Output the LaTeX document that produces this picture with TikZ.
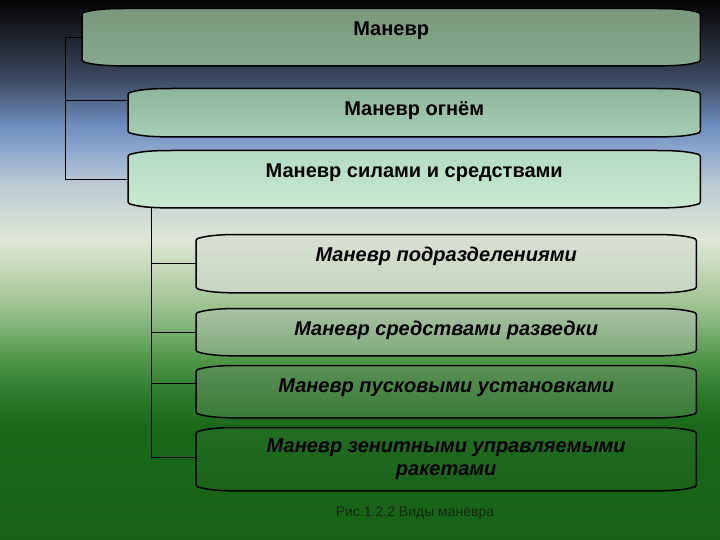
\documentclass[tikz,border=0pt]{standalone}
\usepackage{fontspec}
\setmainfont{Liberation Sans}
\usepackage{tikz}
\usepackage{xcolor}
\usetikzlibrary{positioning,backgrounds}
\pgfdeclarelayer{sky}
\pgfdeclarelayer{wires}
\pgfsetlayers{sky,wires,background,main}

\definecolor{sk0}{HTML}{050505}
\definecolor{sk1}{HTML}{16191F}
\definecolor{sk2}{HTML}{3F4B63}
\definecolor{sk3}{HTML}{6D8CBD}
\definecolor{sk4}{HTML}{8EA8CF}
\definecolor{sk5}{HTML}{BCCBD3}
\definecolor{sk6}{HTML}{DFE7D6}
\definecolor{sk7}{HTML}{B5CFA6}
\definecolor{sk8}{HTML}{84B57B}
\definecolor{sk9}{HTML}{559A4D}
\definecolor{sk10}{HTML}{2F7D2E}
\definecolor{sk11}{HTML}{1A6A19}
\definecolor{sk12}{HTML}{186217}
\definecolor{top1}{HTML}{7A987B}\definecolor{bot1}{HTML}{86AB8F}
\definecolor{top2}{HTML}{8FB59C}\definecolor{bot2}{HTML}{A6CDB6}
\definecolor{top3}{HTML}{B5DBC6}\definecolor{bot3}{HTML}{C8E9CF}
\definecolor{top4}{HTML}{D9E0D3}\definecolor{bot4}{HTML}{C7D6C0}
\definecolor{top5}{HTML}{A9C2A4}\definecolor{bot5}{HTML}{7EA97A}
\definecolor{top6}{HTML}{5A8F56}\definecolor{bot6}{HTML}{397C37}
\definecolor{top7}{HTML}{226E22}\definecolor{bot7}{HTML}{1B621B}
\definecolor{capgray}{HTML}{142614}

% box with bulging top and bottom edges, drawn round a named node
\newcommand{\tapebox}[3]{%
  \shade[top color=#2, bottom color=#3, draw=black, line width=1.5pt, rounded corners=1.5pt]
    (#1.south west) -- (#1.north west)
    .. controls ([shift={(10pt,3pt)}]#1.north west) and ([shift={(20pt,4.5pt)}]#1.north west)
    .. ([shift={(45pt,4.5pt)}]#1.north west) -- ([shift={(-45pt,4.5pt)}]#1.north east)
    .. controls ([shift={(-20pt,4.5pt)}]#1.north east) and ([shift={(-10pt,3pt)}]#1.north east)
    .. (#1.north east) -- (#1.south east)
    .. controls ([shift={(-10pt,-3pt)}]#1.south east) and ([shift={(-20pt,-4.5pt)}]#1.south east)
    .. ([shift={(-45pt,-4.5pt)}]#1.south east) -- ([shift={(45pt,-4.5pt)}]#1.south west)
    .. controls ([shift={(20pt,-4.5pt)}]#1.south west) and ([shift={(10pt,-3pt)}]#1.south west)
    .. cycle;}

\begin{document}
\begin{tikzpicture}[
  x=1pt, y=-1pt,
  boxn/.style={anchor=north west, inner xsep=0pt, inner ysep=0pt, align=center,
               font=\fontsize{20}{23}\selectfont\bfseries},
  boxi/.style={boxn, font=\fontsize{20}{23}\selectfont\bfseries\itshape},
  oneline/.style={text height=22.5pt, text depth=#1},
  link/.style={draw=black, line width=0.8pt}]

\useasboundingbox (0,0) rectangle (720,540);

\node[boxn, oneline=25.5pt, minimum width=618pt] (b1) at (82,13) {Маневр};
\node[boxn, oneline=16.5pt, minimum width=572pt] (b2) at (128,93) {Маневр огнём};
\node[boxn, oneline=25.5pt, minimum width=572pt] (b3) at (128,155) {Маневр силами и средствами};
\node[boxi, oneline=26.5pt, minimum width=500pt] (b4) at (196,239) {Маневр подразделениями};
\node[boxi, oneline=15.5pt, minimum width=500pt] (b5) at (196,313) {Маневр средствами разведки};
\node[boxi, oneline=20.5pt, minimum width=500pt] (b6) at (196,370) {Маневр пусковыми установками};
\node[boxi, minimum width=500pt, minimum height=54pt] (b7) at (196,432)
  {Маневр зенитными управляемыми\\ракетами};

\node[font=\fontsize{14}{16}\selectfont, text=capgray, anchor=base] (cap) at (415,516)
  {Рис.1.2.2 Виды манёвра};

\begin{scope}[on background layer]
  \foreach \n in {1,...,7} \tapebox{b\n}{top\n}{bot\n};
\end{scope}

\begin{pgfonlayer}{wires}
  \draw[link] (b1.west) -- ++(-17,0) |- (b3.west);
  \draw[link] ([yshift=12pt]b2.west) -- ++(-63,0);
  \coordinate (j) at ([xshift=23pt]b3.south west);
  \draw[link] (j) |- ([yshift=2pt]b7.west);
  \draw[link] (j |- b4.west) -- (b4.west);
  \draw[link] (j |- b5.west) -- (b5.west);
  \draw[link] ([yshift=8.5pt]b6.west) -- ++(-45,0);
\end{pgfonlayer}

\begin{pgfonlayer}{sky}
  \foreach \ya/\yb/\ca/\cb in {0/25/sk0/sk1, 25/80/sk1/sk2, 80/125/sk2/sk3,
      125/150/sk3/sk4, 150/185/sk4/sk5, 185/240/sk5/sk6, 240/285/sk6/sk7,
      285/325/sk7/sk8, 325/355/sk8/sk9, 355/390/sk9/sk10, 390/425/sk10/sk11,
      425/540/sk11/sk12}
    \shade[top color=\ca, bottom color=\cb] (0,\ya-0.4) rectangle (720,\yb+0.4);
\end{pgfonlayer}
\end{tikzpicture}
\end{document}
